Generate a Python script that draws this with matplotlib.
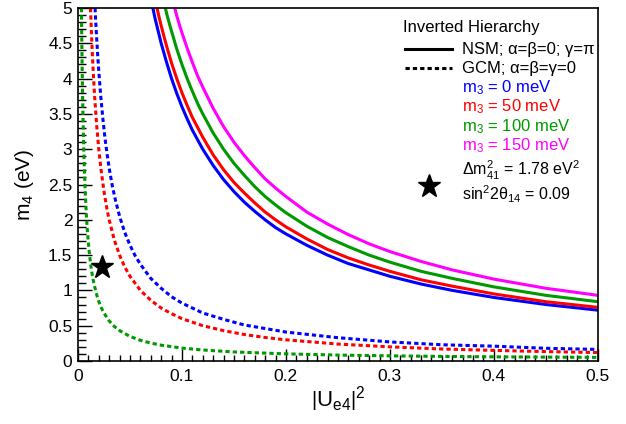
import matplotlib
matplotlib.use("Agg")
import matplotlib.pyplot as plt
from matplotlib.ticker import MultipleLocator, FuncFormatter

plt.rcParams['font.family'] = ['Liberation Sans', 'DejaVu Sans']
plt.rcParams['mathtext.fontset'] = 'custom'
plt.rcParams['mathtext.rm'] = 'Liberation Sans'
plt.rcParams['mathtext.it'] = 'Liberation Sans'
plt.rcParams['mathtext.bf'] = 'Liberation Sans:bold'

# NSM (solid) curves: |U_e4|^2 -> m4 (eV)
nsm_x_m0 = [0.072, 0.074, 0.077, 0.08, 0.085, 0.09, 0.095, 0.10, 0.105, 0.11, 0.12, 0.13, 0.14, 0.15, 0.16, 0.17, 0.18, 0.19, 0.20, 0.22, 0.24, 0.26, 0.28, 0.30, 0.33, 0.36, 0.40, 0.45, 0.50]
nsm_y_m0 = [5.00, 4.86, 4.68, 4.50, 4.24, 4.00, 3.79, 3.60, 3.43, 3.27, 3.00, 2.77, 2.57, 2.40, 2.25, 2.12, 2.00, 1.89, 1.80, 1.64, 1.50, 1.38, 1.29, 1.20, 1.09, 1.00, 0.90, 0.80, 0.72]
nsm_x_m50 = [0.076, 0.078, 0.08, 0.083, 0.086, 0.09, 0.095, 0.10, 0.105, 0.11, 0.12, 0.13, 0.14, 0.15, 0.16, 0.17, 0.18, 0.19, 0.20, 0.22, 0.24, 0.26, 0.28, 0.30, 0.33, 0.36, 0.40, 0.45, 0.50]
nsm_y_m50 = [5.00, 4.87, 4.75, 4.58, 4.42, 4.22, 4.00, 3.80, 3.62, 3.45, 3.17, 2.92, 2.71, 2.53, 2.38, 2.24, 2.11, 2.00, 1.90, 1.73, 1.58, 1.46, 1.36, 1.27, 1.15, 1.06, 0.95, 0.84, 0.76]
nsm_x_m100 = [0.084, 0.086, 0.089, 0.092, 0.095, 0.10, 0.105, 0.11, 0.115, 0.12, 0.13, 0.14, 0.15, 0.16, 0.17, 0.18, 0.19, 0.20, 0.22, 0.24, 0.26, 0.28, 0.30, 0.33, 0.36, 0.40, 0.45, 0.50]
nsm_y_m100 = [5.00, 4.88, 4.72, 4.57, 4.42, 4.20, 4.00, 3.82, 3.65, 3.50, 3.23, 3.00, 2.80, 2.63, 2.47, 2.33, 2.21, 2.10, 1.91, 1.75, 1.62, 1.50, 1.40, 1.27, 1.17, 1.05, 0.93, 0.84]
nsm_x_m150 = [0.093, 0.095, 0.098, 0.10, 0.105, 0.11, 0.115, 0.12, 0.13, 0.14, 0.15, 0.16, 0.17, 0.18, 0.19, 0.20, 0.22, 0.24, 0.26, 0.28, 0.30, 0.33, 0.36, 0.40, 0.45, 0.50]
nsm_y_m150 = [5.00, 4.89, 4.74, 4.65, 4.43, 4.23, 4.04, 3.88, 3.58, 3.32, 3.10, 2.91, 2.74, 2.58, 2.45, 2.33, 2.11, 1.94, 1.79, 1.66, 1.55, 1.41, 1.29, 1.16, 1.03, 0.93]

# GCM (dotted) curves
gcm_x_m0 = [0.0164, 0.017, 0.018, 0.019, 0.02, 0.022, 0.024, 0.026, 0.028, 0.03, 0.033, 0.036, 0.04, 0.045, 0.05, 0.055, 0.06, 0.07, 0.08, 0.09, 0.10, 0.12, 0.14, 0.16, 0.18, 0.20, 0.25, 0.30, 0.35, 0.40, 0.45, 0.50]
gcm_y_m0 = [5.00, 4.82, 4.56, 4.32, 4.10, 3.73, 3.42, 3.15, 2.93, 2.73, 2.48, 2.28, 2.05, 1.82, 1.64, 1.49, 1.37, 1.17, 1.03, 0.91, 0.82, 0.68, 0.59, 0.51, 0.46, 0.41, 0.33, 0.27, 0.23, 0.21, 0.18, 0.164]
gcm_x_m50 = [0.012, 0.013, 0.014, 0.015, 0.016, 0.018, 0.02, 0.022, 0.025, 0.028, 0.03, 0.035, 0.04, 0.045, 0.05, 0.06, 0.07, 0.08, 0.09, 0.10, 0.12, 0.14, 0.16, 0.18, 0.20, 0.25, 0.30, 0.35, 0.40, 0.45, 0.50]
gcm_y_m50 = [5.00, 4.62, 4.29, 4.00, 3.75, 3.33, 3.00, 2.73, 2.40, 2.14, 2.00, 1.71, 1.50, 1.33, 1.20, 1.00, 0.86, 0.75, 0.67, 0.60, 0.50, 0.43, 0.375, 0.333, 0.30, 0.24, 0.20, 0.17, 0.15, 0.133, 0.12]
gcm_x_m100 = [0.0033, 0.0036, 0.004, 0.0045, 0.005, 0.0055, 0.006, 0.007, 0.008, 0.009, 0.01, 0.011, 0.012, 0.0135, 0.015, 0.0175, 0.02, 0.0225, 0.025, 0.03, 0.035, 0.04, 0.05, 0.06, 0.07, 0.08, 0.10, 0.12, 0.15, 0.20, 0.25, 0.30, 0.35, 0.40, 0.45, 0.50]
gcm_y_m100 = [5.0, 4.60, 4.14, 3.69, 3.32, 3.02, 2.77, 2.38, 2.08, 1.85, 1.67, 1.52, 1.39, 1.24, 1.12, 0.961, 0.843, 0.751, 0.678, 0.568, 0.489, 0.431, 0.348, 0.293, 0.254, 0.224, 0.183, 0.156, 0.128, 0.101, 0.084, 0.073, 0.065, 0.059, 0.055, 0.051]

# best-fit point
star_x = [0.0228]
star_y = [1.334]

fig = plt.figure(figsize=(6.26, 4.24), dpi=100)
ax = fig.add_axes([0.1246, 0.1486, 0.8304, 0.8325])

blue, red, green, magenta = '#0000ff', '#ff0000', '#009900', '#ff00ff'
lw = 2.2
dots = (0, (1.4, 1.0))

ax.plot(nsm_x_m0, nsm_y_m0, color=blue, lw=lw)
ax.plot(nsm_x_m50, nsm_y_m50, color=red, lw=lw)
ax.plot(nsm_x_m100, nsm_y_m100, color=green, lw=lw)
ax.plot(nsm_x_m150, nsm_y_m150, color=magenta, lw=lw)

ax.plot(gcm_x_m0, gcm_y_m0, color=blue, lw=lw, ls=dots)
ax.plot(gcm_x_m50, gcm_y_m50, color=red, lw=lw, ls=dots)
ax.plot(gcm_x_m100, gcm_y_m100, color=green, lw=lw, ls=dots)

ax.plot(star_x, star_y, marker='*', color='black', ms=17, ls='none')

ax.set_xlim(0, 0.5)
ax.set_ylim(0, 5)

fmt = FuncFormatter(lambda v, p: '%g' % round(v, 3))
ax.xaxis.set_major_locator(MultipleLocator(0.1))
ax.xaxis.set_minor_locator(MultipleLocator(0.01))
ax.yaxis.set_major_locator(MultipleLocator(0.5))
ax.yaxis.set_minor_locator(MultipleLocator(0.1))
ax.xaxis.set_major_formatter(fmt)
ax.yaxis.set_major_formatter(fmt)
ax.tick_params(axis='both', which='both', direction='in', top=False, right=False, labelsize=12.5)
ax.tick_params(axis='x', which='major', length=9, width=1, pad=6)
ax.tick_params(axis='x', which='minor', length=4.5, width=1)
ax.tick_params(axis='y', which='major', length=10, width=1, pad=4)
ax.tick_params(axis='y', which='minor', length=5.5, width=1)
for s in ax.spines.values():
    s.set_linewidth(1.2)

ax.set_xlabel(r'$\left|\mathregular{U_{e4}}\right|^{2}$', fontsize=16, labelpad=0)
ax.set_ylabel(r'm$\mathregular{_4}$ (eV)', fontsize=15, labelpad=9)

# legend drawn by hand
T = ax.transAxes
def ax_xy(px, py):
    return ((px - 78) / 520.0, (361 - py) / 353.0)

fs = 12
ax.text(*ax_xy(403, 27), 'Inverted Hierarchy', transform=T, fontsize=fs, va='center', ha='left')
x0, _ = ax_xy(405, 0)
x1, _ = ax_xy(452, 0)
_, yl = ax_xy(0, 49)
ax.plot([x0, x1], [yl, yl], transform=T, color='black', lw=lw)
_, yl = ax_xy(0, 68)
ax.plot([x0, x1], [yl, yl], transform=T, color='black', lw=lw, ls=dots)
ax.text(*ax_xy(462, 49), 'NSM; α=β=0; γ=π', transform=T, fontsize=fs, va='center')
ax.text(*ax_xy(462, 68), 'GCM; α=β=γ=0', transform=T, fontsize=fs, va='center')
ax.text(*ax_xy(462, 88), r'm$\mathregular{_3}$ = 0 meV', transform=T, fontsize=fs, va='center', color=blue)
ax.text(*ax_xy(462, 107), r'm$\mathregular{_3}$ = 50 meV', transform=T, fontsize=fs, va='center', color=red)
ax.text(*ax_xy(462, 127), r'm$\mathregular{_3}$ = 100 meV', transform=T, fontsize=fs, va='center', color=green)
ax.text(*ax_xy(462, 146), r'm$\mathregular{_3}$ = 150 meV', transform=T, fontsize=fs, va='center', color=magenta)
ax.text(*ax_xy(462, 170), r'$\mathregular{\Delta m^2_{41}}$ = 1.78 eV$\mathregular{^2}$', transform=T, fontsize=11.5, va='center')
ax.text(*ax_xy(462, 194), r'sin$\mathregular{^2}$2θ$\mathregular{_{14}}$ = 0.09', transform=T, fontsize=11.5, va='center')
ax.plot(*ax_xy(429, 186), transform=T, marker='*', color='black', ms=17, ls='none')

fig.savefig('out.png', dpi=100)
